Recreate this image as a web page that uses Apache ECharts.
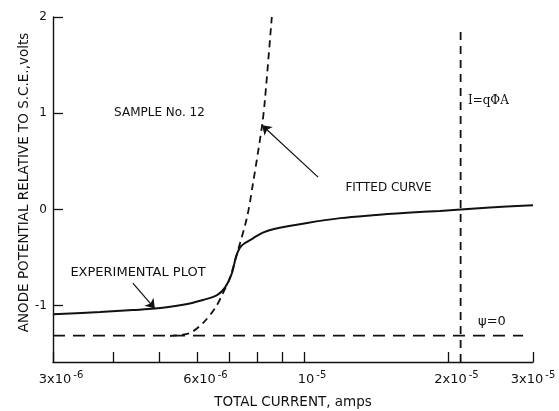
<!DOCTYPE html>
<html>
<head>
<meta charset="utf-8">
<script src="https://cdn.jsdelivr.net/npm/echarts@6/dist/echarts.min.js"></script>
<style>
  html, body { margin: 0; padding: 0; background: #ffffff; }
  #chart { width: 559px; height: 411px; }
</style>
</head>
<body>
<div id="chart"></div>
<script>
// Anode potential vs. total current, sample No. 12 (log current axis)
const experimentalCurrent = [3.00e-6, 3.76e-6, 4.40e-6, 4.89e-6, 5.60e-6, 6.16e-6, 6.59e-6, 6.85e-6,
  7.08e-6, 7.22e-6, 7.40e-6, 7.83e-6, 8.21e-6, 8.62e-6, 1.015e-5, 1.19e-5, 1.39e-5, 1.64e-5,
  1.92e-5, 2.12e-5, 2.44e-5, 3.00e-5];
const experimentalPotential = [-1.09, -1.065, -1.045, -1.03, -0.99, -0.94, -0.89, -0.81,
  -0.66, -0.49, -0.38, -0.30, -0.24, -0.205, -0.14, -0.09, -0.06, -0.035,
  -0.015, 0.0, 0.02, 0.045];

const fittedCurrent = [5.26e-6, 5.78e-6, 6.16e-6, 6.53e-6, 6.78e-6, 7.01e-6, 7.29e-6, 7.61e-6,
  7.83e-6, 8.18e-6, 8.29e-6, 8.57e-6];
const fittedPotential = [-1.315, -1.284, -1.18, -1.025, -0.87, -0.71, -0.42, -0.08,
  0.27, 0.875, 1.135, 2.0];

const psiZeroCurrent = [3.0e-6, 2.86e-5];
const psiZeroPotential = -1.31;

const saturationCurrent = 2.12e-5;          // I = qΦA
const saturationPotential = [-1.585, 1.88];

const currentRange = [3e-6, 3e-5];
const potentialRange = [-1.585, 2];

const xTickCurrents = [3e-6, 4e-6, 5e-6, 6e-6, 7e-6, 8e-6, 9e-6, 1e-5, 2e-5, 3e-5];
const xLabelCurrents = [3e-6, 6e-6, 1e-5, 2e-5, 3e-5];
const xLabelMantissa = ['3x10', '6x10', '10', '2x10', '3x10'];
const xLabelExponent = ['-6', '-6', '-5', '-5', '-5'];
const yTickValues = [-1, 0, 1, 2];

// annotation texts and arrows, in (current, potential)
const notes = [
  { text: 'SAMPLE No. 12', current: 5.0e-6, potential: 1.0, align: 'center' },
  { text: 'FITTED CURVE', current: 1.50e-5, potential: 0.22, align: 'center' },
  { text: 'EXPERIMENTAL PLOT', current: 4.51e-6, potential: -0.66, align: 'center', size: 13 },
  { text: 'I=qΦA', current: 2.19e-5, potential: 1.13, align: 'left', serif: true },
  { text: 'ψ=0', current: 2.30e-5, potential: -1.17, align: 'left', size: 13 }
];
const arrows = [
  { from: [1.07e-5, 0.336], to: [8.18e-6, 0.875] },
  { from: [4.40e-6, -0.765], to: [4.89e-6, -1.03] }
];

const lg = Math.log10;
const ink = '#111111';
const font = 'DejaVu Sans';

const pairs = (xs, ys) => xs.map((x, i) => [lg(x), ys[i]]);
const xLabelByKey = {};
xLabelCurrents.forEach((c, i) => {
  // the last label sits flush with the axis end, the others lean right of their tick
  const lead = i === xLabelCurrents.length - 1 ? 'm0' : 'm';
  xLabelByKey[lg(c).toFixed(4)] = '{' + lead + '|' + xLabelMantissa[i] + '}{e|' + xLabelExponent[i] + '}';
});

const chart = echarts.init(document.getElementById('chart'), null, { renderer: 'canvas' });

chart.setOption({
  animation: false,
  backgroundColor: '#ffffff',
  textStyle: { fontFamily: font, color: ink },
  grid: { left: 53, right: 26, top: 17, bottom: 49, containLabel: false, outerBoundsMode: 'none' },
  xAxis: {
    type: 'value',
    min: lg(currentRange[0]),
    max: lg(currentRange[1]),
    name: 'TOTAL CURRENT, amps',
    nameLocation: 'middle',
    nameGap: 33,
    nameMoveOverlap: false,
    nameTextStyle: { fontSize: 13.5, color: ink, fontFamily: font },
    axisLine: { show: true, onZero: false, lineStyle: { color: ink, width: 1.4 } },
    axisTick: {
      show: true, inside: true, length: 10,
      customValues: xTickCurrents.map(lg),
      lineStyle: { color: ink, width: 1.3 }
    },
    axisLabel: {
      show: true,
      margin: 8,
      customValues: xLabelCurrents.map(lg),
      formatter: v => xLabelByKey[v.toFixed(4)] || '',
      rich: {
        m: { fontSize: 13, fontFamily: font, color: ink, lineHeight: 16, verticalAlign: 'bottom', padding: [0, 0, 0, 16] },
        m0: { fontSize: 13, fontFamily: font, color: ink, lineHeight: 16, verticalAlign: 'bottom' },
        e: { fontSize: 10, fontFamily: font, color: ink, lineHeight: 16, verticalAlign: 'top', padding: [0, 0, 7, 2] }
      }
    },
    splitLine: { show: false }
  },
  yAxis: {
    type: 'value',
    min: potentialRange[0],
    max: potentialRange[1],
    name: 'ANODE POTENTIAL RELATIVE TO S.C.E.,volts',
    nameLocation: 'middle',
    nameGap: 22,
    nameRotate: 90,
    nameMoveOverlap: false,
    nameTextStyle: { fontSize: 13.5, color: ink, fontFamily: font, padding: [0, 0, 0, 14] },
    axisLine: { show: true, onZero: false, lineStyle: { color: ink, width: 1.4 } },
    axisTick: {
      show: true, inside: true, length: 10,
      customValues: yTickValues,
      lineStyle: { color: ink, width: 1.3 }
    },
    axisLabel: {
      show: true, margin: 6, fontSize: 12, color: ink, fontFamily: font,
      customValues: yTickValues,
      formatter: v => String(Math.round(v))
    },
    splitLine: { show: false }
  },
  series: [
    {
      name: 'Experimental plot',
      type: 'line',
      data: pairs(experimentalCurrent, experimentalPotential),
      smooth: 0.35,
      symbol: 'none',
      lineStyle: { color: ink, width: 2 },
      z: 5,
      markLine: {
        silent: true,
        symbol: ['none', 'arrow'],
        symbolSize: 9,
        label: { show: false },
        lineStyle: { color: ink, width: 1.2, type: 'solid', opacity: 1 },
        itemStyle: { color: ink },
        data: arrows.map(a => [
          { coord: [lg(a.from[0]), a.from[1]] },
          { coord: [lg(a.to[0]), a.to[1]] }
        ])
      }
    },
    {
      name: 'Fitted curve',
      type: 'line',
      data: pairs(fittedCurrent, fittedPotential),
      smooth: 0.3,
      symbol: 'none',
      lineStyle: { color: ink, width: 1.8, type: [7, 5] },
      z: 4
    },
    {
      name: 'psi = 0',
      type: 'line',
      data: psiZeroCurrent.map(c => [lg(c), psiZeroPotential]),
      symbol: 'none',
      lineStyle: { color: ink, width: 1.8, type: [12, 8] },
      z: 3
    },
    {
      name: 'I = qΦA',
      type: 'line',
      data: saturationPotential.map(v => [lg(saturationCurrent), v]),
      symbol: 'none',
      lineStyle: { color: ink, width: 1.8, type: [8, 6] },
      z: 3
    },
    {
      name: 'notes',
      type: 'scatter',
      symbolSize: 1,
      itemStyle: { color: 'rgba(0,0,0,0)', opacity: 1 },
      silent: true,
      data: notes.map(n => ({
        value: [lg(n.current), n.potential],
        label: {
          show: true,
          position: n.align === 'left' ? 'right' : 'inside',
          distance: 0,
          formatter: n.text,
          fontSize: n.size || 12,
          color: ink,
          opacity: 1,
          fontFamily: n.serif ? 'DejaVu Serif' : font
        }
      })),
      z: 6
    }
  ]
});
</script>
</body>
</html>
